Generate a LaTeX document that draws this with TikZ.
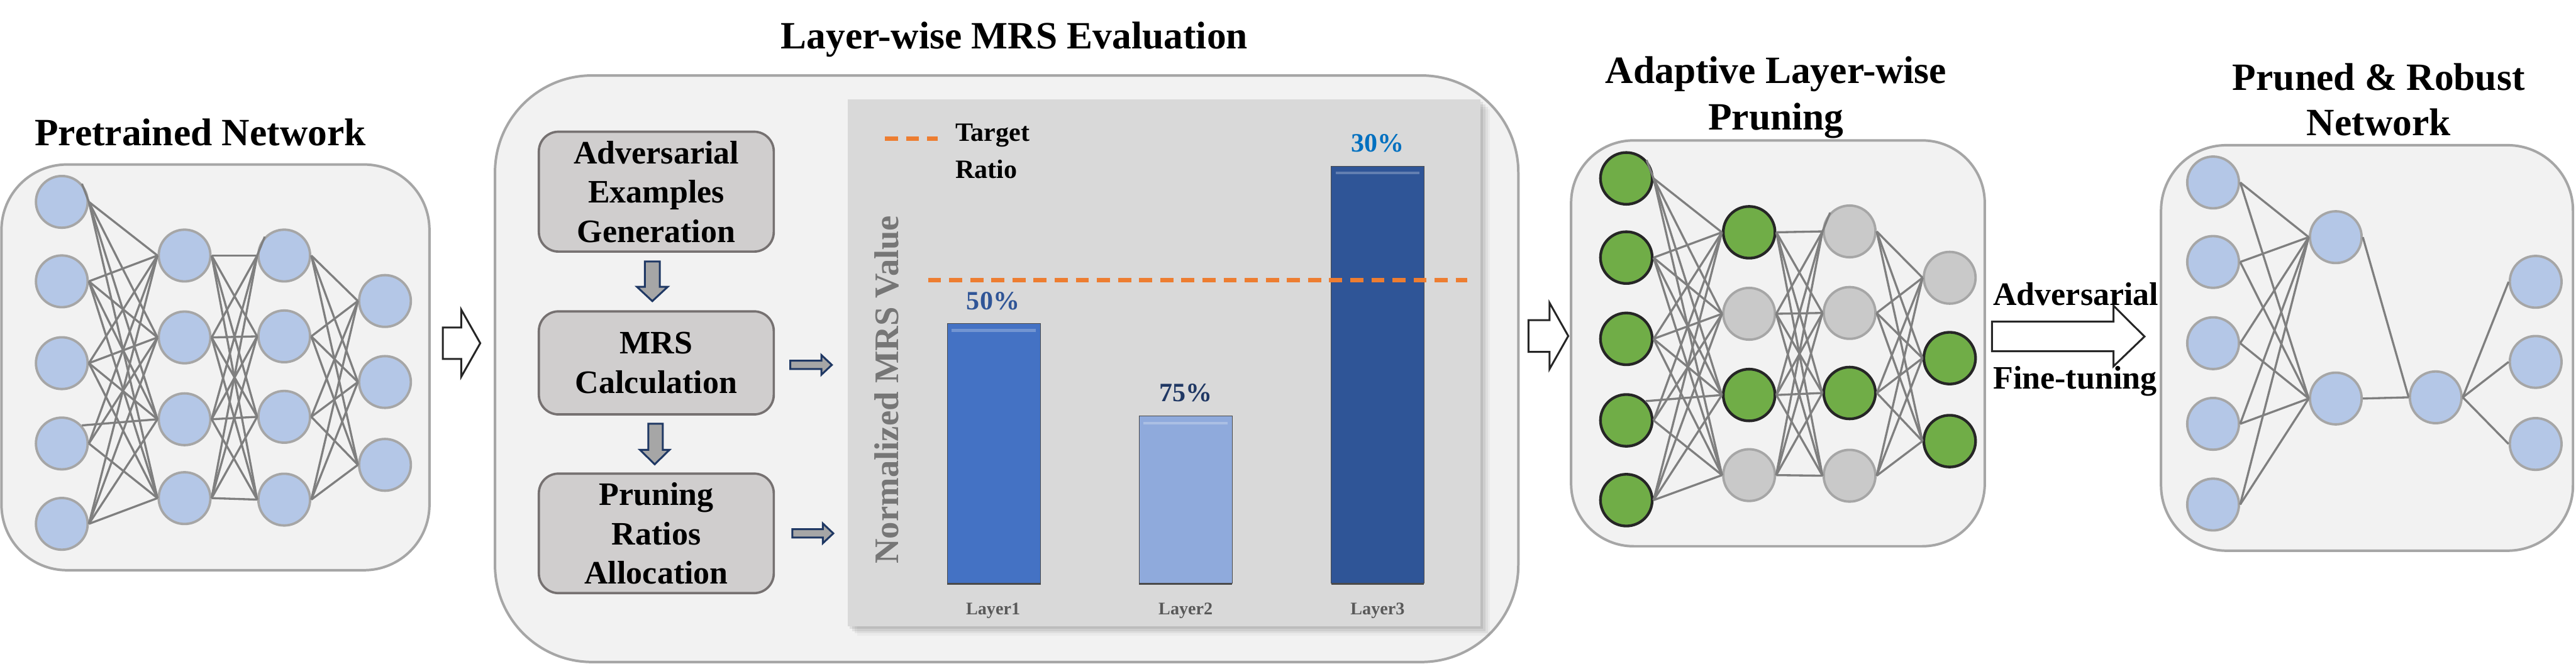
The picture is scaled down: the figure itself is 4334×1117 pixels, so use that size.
\documentclass[tikz,border=0pt]{standalone}
\usepackage{fontspec}
\setmainfont{Liberation Serif}
\usetikzlibrary{calc}
\definecolor{panelfill}{HTML}{F2F2F2}
\definecolor{panelline}{HTML}{A6A6A6}
\definecolor{neuronblue}{HTML}{B4C7E7}
\definecolor{edgegray}{HTML}{7F7F7F}
\definecolor{greenfill}{HTML}{70AD47}
\definecolor{darkring}{HTML}{262626}
\definecolor{prunegray}{HTML}{C9C9C9}
\definecolor{stepfill}{HTML}{D0CECE}
\definecolor{stepline}{HTML}{767171}
\definecolor{navy}{HTML}{1F3864}
\definecolor{arrgray}{HTML}{A6A6A6}
\definecolor{chartbg}{HTML}{D9D9D9}
\definecolor{barA}{HTML}{4472C4}
\definecolor{barB}{HTML}{8FAADC}
\definecolor{barC}{HTML}{2F5597}
\definecolor{bareline}{HTML}{4A4A4A}
\definecolor{orangeline}{HTML}{ED7D31}
\definecolor{pctA}{HTML}{2F5597}
\definecolor{pctB}{HTML}{203864}
\definecolor{pctC}{HTML}{0070C0}
\definecolor{axisgray}{HTML}{767676}
\definecolor{labgray}{HTML}{595959}
\begin{document}
\begin{tikzpicture}[x=0.01cm,y=-0.01cm,
  panel/.style={draw=panelline, fill=panelfill, line width=1.2pt, inner sep=0pt, rectangle},
  neuron/.style={circle, inner sep=0pt, minimum size=0.87cm, line width=1.15pt},
  bn/.style={neuron, draw=panelline, fill=neuronblue},
  gn/.style={neuron, draw=darkring, fill=greenfill, line width=1.3pt},
  pn/.style={neuron, draw=panelline, fill=prunegray},
  link/.style={draw=edgegray, line width=1pt},
  ttl/.style={font=\fontsize{18.5}{22.1}\selectfont\bfseries, anchor=base, inner sep=0pt},
  stepbox/.style={draw=stepline, fill=stepfill, line width=1.1pt, rounded corners=0.33cm, minimum width=3.95cm, align=center, font=\fontsize{15.65}{18.78}\selectfont\bfseries, inner sep=0pt},
  flowarr/.style={draw=navy, fill=arrgray, line width=0.9pt, line join=miter},
  bigarr/.style={draw=darkring, fill=white, line width=0.9pt, line join=miter},
  pct/.style={font=\fontsize{12.66}{15}\selectfont\bfseries, anchor=base, inner sep=0pt},
  lbl/.style={font=\fontsize{15.65}{18.78}\selectfont\bfseries, anchor=base west, inner sep=0pt},
  barstyle/.style={draw=bareline, line width=0.35pt},
  target/.style={draw=orangeline, line width=2pt, dash pattern=on 0.22cm off 0.135cm},
]
\useasboundingbox (0,0) rectangle (4334,1117);
\fill[white] (0,0) rectangle (4334,1117);

% ---------------- titles
\node[ttl] (t1) at (337,245.3) {Pretrained Network};
\node[ttl] (t2) at (1706.5,81.7) {Layer-wise MRS Evaluation};
\node[ttl] (t3a) at (2988,140.7) {Adaptive Layer-wise};
\node[ttl] (t3b) at (2988,218.3) {Pruning};
\node[ttl] (t4a) at (4002,151.7) {Pruned \& Robust};
\node[ttl] (t4b) at (4002,228.3) {Network};

% ---------------- panels
\node[panel, rounded corners=1.1cm, minimum width=7.196cm, minimum height=6.823cm] (P1) at (362.5,618.15) {};
\node[panel, rounded corners=1.63cm, minimum width=17.207cm, minimum height=9.864cm] (P2) at (1693.65,620.5) {};
\node[panel, rounded corners=1.05cm, minimum width=6.955cm, minimum height=6.825cm] (P3) at (2991.25,577.75) {};
\node[panel, rounded corners=1.1cm, minimum width=6.927cm, minimum height=6.82cm] (P4) at (3982.35,585.5) {};

% ---------------- panel 1 : pretrained network
\foreach \y [count=\i] in {339.7,473.4,611.1,746.3,881.5} \node[bn] (a\i) at (104,\y) {};
\foreach \y [count=\i] in {430,567.8,705.5,838.2} \node[bn] (b\i) at (310.5,\y) {};
\foreach \y [count=\i] in {430,566,701.4,840.7} \node[bn] (c\i) at (478.2,\y) {};
\foreach \y [count=\i] in {506.5,642.8,782.2} \node[bn] (d\i) at (647.7,\y) {};
\foreach \i in {1,2,3,5} \foreach \j in {1,...,4} \draw[link] (a\i.east) -- (b\j.west);
\foreach \j in {1,2,4} \draw[link] (a4.east) -- (b\j.west);
\draw[link] (a4.42) -- (b3.west);
\draw[link] (a1.42) -- (a1.east);
\foreach \i in {1,...,4} \foreach \j in {1,...,4} \draw[link] (b\i.east) -- (c\j.west);
\draw[link] (c1.136) -- (c1.west);
\foreach \i in {1,...,4} \foreach \j in {1,...,3} \draw[link] (c\i.east) -- (d\j.west);

% ---------------- panel 3 : adaptive pruning
\foreach \y [count=\i] in {300.2,433.5,570.2,707.4,841.6} \node[gn] (e\i) at (2736.2,\y) {};
\node[gn] (f1) at (2942.8,390.9) {};
\node[pn] (f2) at (2942.8,528) {};
\node[gn] (f3) at (2942.8,664.7) {};
\node[pn] (f4) at (2942.8,799.5) {};
\node[pn] (g1) at (3111.8,389.4) {};
\node[pn] (g2) at (3111.8,526.6) {};
\node[gn] (g3) at (3111.8,661.3) {};
\node[pn] (g4) at (3111.8,800.5) {};
\node[pn] (h1) at (3280.2,467.4) {};
\node[gn] (h2) at (3280.2,602.7) {};
\node[gn] (h3) at (3280.2,742.3) {};
\foreach \i in {1,2,3,5} \foreach \j in {1,...,4} \draw[link] (e\i.east) -- (f\j.west);
\foreach \j in {1,2,4} \draw[link] (e4.east) -- (f\j.west);
\draw[link] (e4.45) -- (f3.west);
\draw[link] (e1.42) -- (e1.east);
\foreach \i in {1,...,4} \foreach \j in {1,...,4} \draw[link] (f\i.east) -- (g\j.west);
\draw[link] (g1.136) -- (g1.west);
\foreach \i in {1,...,4} \foreach \j in {1,...,3} \draw[link] (g\i.east) -- (h\j.west);

% ---------------- panel 4 : pruned & robust network
\foreach \y [count=\i] in {307,440.8,577.5,713.2,849} \node[bn] (k\i) at (3723.4,\y) {};
\node[bn] (m1) at (3929.8,399.1) {};
\node[bn] (m2) at (3929.8,670.6) {};
\node[bn] (n1) at (4097.9,668.6) {};
\foreach \y [count=\i] in {474.2,609,747.1} \node[bn] (q\i) at (4266.1,\y) {};
\foreach \i in {1,...,5} \foreach \j in {1,2} \draw[link] (k\i.east) -- (m\j.west);
\foreach \j in {1,2} \draw[link] (m\j.east) -- (n1.west);
\foreach \j in {1,2,3} \draw[link] (n1.east) -- (q\j.west);

% ---------------- panel 2 : steps
\node[stepbox, minimum height=2.016cm] (s1) at (1104.2,322.5) {Adversarial\\Examples\\Generation};
\node[stepbox, minimum height=1.733cm] (s2) at (1104.2,610.65) {MRS\\Calculation};
\node[stepbox, minimum height=2.01cm] (s3) at (1104.2,897.5) {Pruning\\Ratios\\Allocation};
\draw[flowarr] (1085,440) -- (1110,440) -- (1110,482.7) -- (1123.3,482.7) -- (1097.5,506.7) -- (1071.7,482.7) -- (1085,482.7) -- cycle;
\draw[flowarr] (1090.7,713) -- (1115,713) -- (1115,757) -- (1126.3,757) -- (1101.5,781.3) -- (1076.7,757) -- (1090.7,757) -- cycle;
\draw[flowarr] (1329.7,607) -- (1382,607) -- (1382,597.5) -- (1399.5,614) -- (1382,630.5) -- (1382,621) -- (1329.7,621) -- cycle;
\draw[flowarr] (1333,890.5) -- (1384.5,890.5) -- (1384.5,881) -- (1402,897.5) -- (1384.5,914) -- (1384.5,904.5) -- (1333,904.5) -- cycle;

% ---------------- chart
\foreach \o/\a in {16/0.03,12/0.05,8/0.07,4/0.08} \fill[black, opacity=\a] (1425.9+\o,167.6+\o) rectangle (2491+\o,1054+\o);
\fill[chartbg] (1425.9,167.6) rectangle (2491,1054);
\fill[barA] (1593.8,544) rectangle (1750.7,981.8);
\fill[barB] (1916.4,700.2) rectangle (2073.2,981.8);
\fill[barC] (2239.7,279.6) rectangle (2395.8,981.8);
\draw[barstyle] (1593.8,544) rectangle (1750.7,981.8);
\draw[barstyle] (1916.4,700.2) rectangle (2073.2,981.8);
\draw[barstyle] (2239.7,279.6) rectangle (2395.8,981.8);
\draw[bareline, line width=0.8pt] (1593.8,982.5) -- (1750.7,982.5) (1916.4,982.5) -- (2073.2,982.5) (2239.7,982.5) -- (2395.8,982.5);
\draw[white, opacity=0.25, line width=1.3pt] (1601,556) -- (1743,556) (1924,712) -- (2065,712) (2247,291) -- (2388,291);
\draw[target] (1561.3,471.2) -- (2469,471.2);
\draw[target] (1488.8,233) -- (1577.5,233);
\node[pct, anchor=base west] (tg1) at (1607,238) {Target};
\node[pct, anchor=base west] (tg2) at (1607,300.4) {Ratio};
\node[pct, text=pctA] (v1) at (1670.8,521) {50\%};
\node[pct, text=pctB] (v2) at (1994.8,675.7) {75\%};
\node[pct, text=pctC] (v3) at (2317.7,255) {30\%};
\node[font=\fontsize{16.45}{19}\selectfont\bfseries, text=axisgray, rotate=90, anchor=base, inner sep=0pt] (ax) at (1512,655.7) {Normalized MRS Value};
\foreach \x/\t [count=\i] in {1670.8/Layer1,1994.8/Layer2,2317.7/Layer3}
  \node[font=\fontsize{8.48}{10}\selectfont\bfseries, text=labgray, anchor=base, inner sep=0pt] (lay\i) at (\x,1034) {\t};

% ---------------- big arrows between panels
\draw[bigarr] (745,551) -- (776,551) -- (776,521) -- (808,577.5) -- (776,634) -- (776,604) -- (745,604) -- cycle;
\draw[bigarr] (2571.5,538.7) -- (2607,538.7) -- (2607,509.6) -- (2638.5,565.4) -- (2607,621) -- (2607,592) -- (2571.5,592) -- cycle;
\draw[bigarr] (3351.4,541.1) -- (3555.9,541.1) -- (3555.9,514.5) -- (3608,566.3) -- (3555.9,616.3) -- (3555.9,591) -- (3351.4,591) -- cycle;
\node[lbl] (adv) at (3352.8,513.5) {Adversarial};
\node[lbl] (fine) at (3352.8,654) {Fine-tuning};
\end{tikzpicture}
\end{document}
